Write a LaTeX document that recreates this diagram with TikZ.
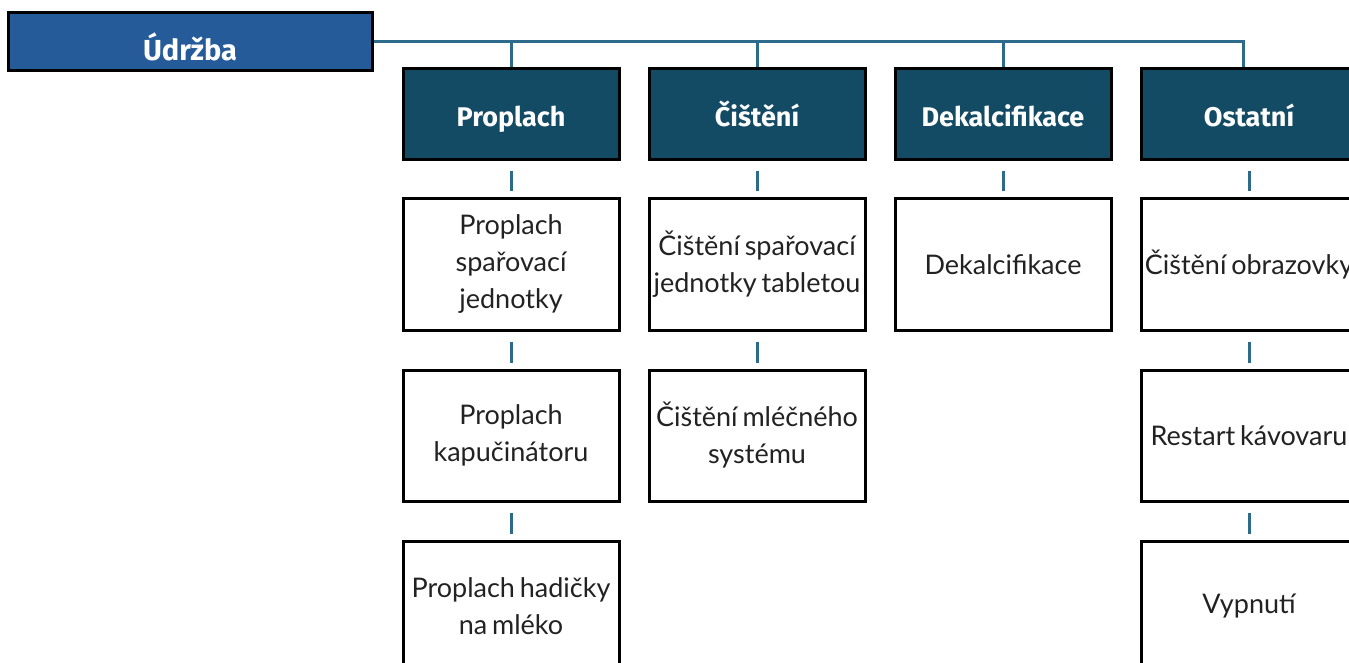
\documentclass[tikz,border=0pt]{standalone}
\usepackage{fontspec}
\setmainfont{Lato}[WordSpace=0.7]
\newfontfamily\headfont{Fira Sans}
\definecolor{rootblue}{HTML}{245B98}
\definecolor{headteal}{HTML}{134A64}
\definecolor{linecol}{HTML}{2D6B8C}
\definecolor{txtcol}{HTML}{222222}
\tikzset{
  rootbox/.style={draw=black, line width=3pt, fill=rootblue, minimum width=364pt, minimum height=58pt, inner sep=0pt,
    text height=38pt, text depth=0pt,
    font=\headfont\bfseries\fontsize{29}{34}\selectfont, text=white},
  headbox/.style={draw=black, line width=3pt, fill=headteal, minimum width=216pt, minimum height=91pt, inner sep=0pt,
    text height=26pt, text depth=1pt,
    font=\headfont\bfseries\fontsize{27}{32}\selectfont, text=white},
  leafbox/.style={draw=black, line width=3pt, fill=white, minimum width=216pt, minimum height=131pt, inner sep=0pt,
    align=center, font=\fontsize{27}{37}\selectfont, text=txtcol},
  conn/.style={draw=linecol, line width=3pt},
}
\begin{document}
\begin{tikzpicture}[x=1pt,y=-1pt]
\useasboundingbox (0,0) rectangle (1349,663);
\clip (0,0) rectangle (1349,663);
\node[rootbox] (root) at (190,42) {Údržba};
\node[headbox] (h1) at (511,114.5) {Proplach};
\node[headbox] (h2) at (757,114.5) {Čištění};
\node[headbox] (h3) at (1003,114.5) {Dekalcifikace};
\node[headbox] (h4) at (1249,114.5) {Ostatní};
\node[leafbox] (a1) at (511,264.5) {Proplach\\spařovací\\jednotky};
\node[leafbox] (a2) at (511,435.5) {Proplach\\kapučinátoru};
\node[leafbox] (a3) at (511,606.5) {Proplach hadičky\\na mléko};
\node[leafbox] (b1) at (757,264.5) {Čištění spařovací\\jednotky tabletou};
\node[leafbox] (b2) at (757,435.5) {Čištění mléčného\\systému};
\node[leafbox] (c1) at (1003,264.5) {Dekalcifikace};
\node[leafbox] (d1) at (1249,264.5) {Čištění obrazovky};
\node[leafbox] (d2) at (1249,435.5) {Restart kávovaru};
\node[leafbox] (d3) at (1249,606.5) {Vypnutí};
\coordinate (bus) at ([xshift=-6pt]root.east -| h4.north);
\draw[conn] (root.east) -- (bus) -- (bus |- h4.north);
\foreach \h in {h1,h2,h3}{
  \draw[conn] (root.east -| \h.north) -- (\h.north);
}
\foreach \u/\v in {h1/a1,a1/a2,a2/a3,h2/b1,b1/b2,h3/c1,h4/d1,d1/d2,d2/d3}{
  \draw[conn] ([yshift=-10pt]\u.south) -- ([yshift=6pt]\v.north);
}
\end{tikzpicture}
\end{document}
